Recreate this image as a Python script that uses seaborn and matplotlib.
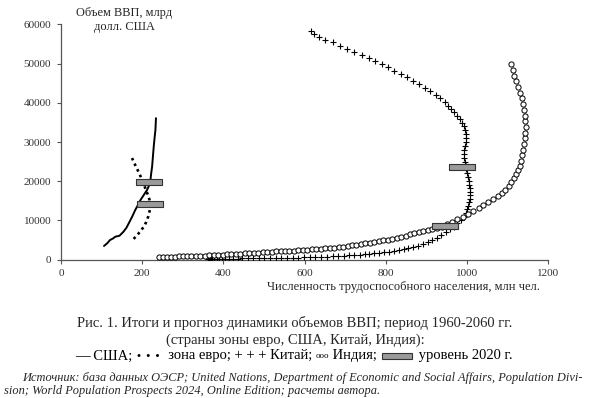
import numpy as np
import pandas as pd
import matplotlib
matplotlib.use("Agg")
import matplotlib.pyplot as plt
from matplotlib.path import Path
from matplotlib.patches import Rectangle
from matplotlib.offsetbox import TextArea, DrawingArea, HPacker, AnchoredOffsetbox
import seaborn as sns

# ---------------- data (population, mln; GDP, bln USD) ----------------
usa_pop = [106, 114, 121, 128, 134, 144, 154, 161, 167, 175, 183, 190, 196, 204, 212,
           217, 220, 222, 224.5, 226.5, 228.5, 230.5, 232.7, 234]
usa_gdp = [3500, 4200, 5030, 5400, 5870, 6100, 7140, 8100, 9280, 10900, 12680, 14000,
           15230, 16500, 17780, 18900, 19900, 21800, 23720, 26300, 28830, 31000, 33090, 36070]

euro_pop = [179, 188, 196, 204, 210, 215, 219, 220, 218, 214, 209, 204, 198, 191, 183, 175]
euro_gdp = [5300, 6300, 7300, 8400, 9600, 11000, 12700, 14000, 15300, 16600, 17800,
            19300, 20800, 22400, 24100, 25900]

china_pop = [362, 364, 366, 369, 373, 378, 384, 390, 397, 405, 414, 424, 435, 447, 460,
             473, 487, 501, 515, 529, 543, 557, 571, 585, 599, 613, 627, 641, 655, 669,
             683, 697, 710, 723, 736, 748, 760, 772, 784, 796, 808, 820, 832, 844, 856,
             868, 880, 892, 904, 915, 926, 937, 948, 958, 968, 977, 985, 992, 997, 1001,
             1004, 1006, 1007, 1008, 1008, 1007, 1006, 1005, 1003, 1001, 999, 997, 995,
             993, 993, 994, 995, 997, 998, 998, 996, 993, 988, 982, 976, 969, 962, 954,
             945, 935, 923, 910, 896, 882, 867, 852, 837, 821, 806, 790, 774, 758, 741,
             723, 705, 687, 669, 651, 636, 624, 616]
china_gdp = [150, 150, 150, 160, 170, 190, 210, 220, 230, 240, 260, 280, 300, 320, 340,
             360, 370, 390, 400, 420, 450, 480, 510, 540, 580, 620, 670, 720, 780, 850,
             920, 990, 1070, 1150, 1240, 1340, 1450, 1580, 1720, 1870, 2040, 2230, 2440,
             2680, 2950, 3260, 3610, 4010, 4470, 5000, 5600, 6250, 6950, 7700, 8450, 9250,
             10100, 11000, 11900, 12800, 13700, 14600, 15500, 16400, 17300, 18200, 19100,
             20000, 21000, 22000, 23000, 24000, 25000, 26000, 27000, 28000, 29000, 30000,
             31000, 32000, 33000, 34000, 34900, 35800, 36700, 37600, 38500, 39300, 40200,
             41100, 42000, 42900, 43800, 44700, 45600, 46500, 47400, 48200, 49000, 49800,
             50600, 51400, 52200, 53000, 53800, 54600, 55400, 56100, 56800, 57500, 58200]

india_pop = [241, 251, 261, 271, 281, 291, 301, 311, 321, 332, 343, 354, 365, 376, 387,
             398, 409, 420, 431, 442, 453, 464, 475, 486, 497, 508, 519, 530, 541, 552,
             563, 574, 585, 596, 607, 618, 629, 640, 651, 662, 673, 684, 695, 706, 717,
             728, 739, 750, 761, 772, 783, 794, 805, 816, 827, 838, 849, 860, 871, 882,
             893, 904, 915, 926, 938, 951, 964, 977, 990, 1003, 1016, 1029, 1041, 1053,
             1065, 1076, 1086, 1095, 1103, 1110, 1116, 1121, 1126, 1130, 1133, 1136, 1139,
             1141, 1143, 1144, 1145, 1144, 1143, 1141, 1138, 1135, 1131, 1127, 1122, 1117,
             1113, 1110]
india_gdp = [690, 710, 730, 760, 790, 820, 850, 880, 910, 950, 1000, 1050, 1100, 1150,
             1220, 1290, 1350, 1410, 1470, 1540, 1610, 1680, 1750, 1820, 1890, 1960, 2030,
             2100, 2160, 2220, 2270, 2330, 2400, 2480, 2560, 2640, 2720, 2810, 2900, 3000,
             3100, 3220, 3350, 3480, 3650, 3830, 4020, 4210, 4380, 4550, 4730, 4920, 5140,
             5380, 5620, 5880, 6150, 6430, 6720, 7000, 7280, 7560, 7850, 8120, 8420, 9000,
             9600, 10300, 11000, 11750, 12450, 13150, 13850, 14600, 15350, 16150, 17000,
             17850, 18800, 19800, 20800, 21800, 22800, 23800, 25150, 26600, 28050, 29500,
             30950, 32400, 33850, 35300, 36750, 38200, 39650, 41100, 42550, 44000, 45450,
             46900, 48350, 49800]

level2020_pop = [216, 219.5, 987, 947]
level2020_gdp = [19740, 14160, 23520, 8550]

x_ticks = [0, 200, 400, 600, 800, 1000, 1200]
y_ticks = [0, 10000, 20000, 30000, 40000, 50000, 60000]

# ---------------- style ----------------
sns.set_style("ticks")
SERIF = ["Liberation Serif", "DejaVu Serif"]
plt.rcParams["font.family"] = SERIF
plt.rcParams["axes.edgecolor"] = "#555555"
plt.rcParams["xtick.color"] = "#555555"
plt.rcParams["ytick.color"] = "#555555"

fig = plt.figure(figsize=(5.9, 3.98), dpi=100)
ax = fig.add_axes([61 / 590, 0.3475, 487 / 590, 0.5914])

usa = pd.DataFrame({"pop": usa_pop, "gdp": usa_gdp})
euro = pd.DataFrame({"pop": euro_pop, "gdp": euro_gdp})
china = pd.DataFrame({"pop": china_pop, "gdp": china_gdp})
india = pd.DataFrame({"pop": india_pop, "gdp": india_gdp})
lvl = pd.DataFrame({"pop": level2020_pop, "gdp": level2020_gdp})

sns.lineplot(data=usa, x="pop", y="gdp", sort=False, estimator=None, color="black",
             lw=1.4, ax=ax)
sns.lineplot(data=euro, x="pop", y="gdp", sort=False, estimator=None, color="black",
             lw=1.9, ax=ax, linestyle=(0, (1.0, 1.35)))
sns.scatterplot(data=china, x="pop", y="gdp", marker="+", s=22, color="black",
                linewidth=0.8, ax=ax, zorder=3)
sns.scatterplot(data=india, x="pop", y="gdp", marker="o", s=14, facecolor="white",
                edgecolor="black", linewidth=0.7, ax=ax, zorder=3)
rect_marker = Path([(-1, -0.19), (1, -0.19), (1, 0.19), (-1, 0.19), (-1, -0.19)],
                   [Path.MOVETO, Path.LINETO, Path.LINETO, Path.LINETO, Path.CLOSEPOLY])
sns.scatterplot(data=lvl, x="pop", y="gdp", marker=rect_marker, s=370,
                facecolor="#9a9a9a", edgecolor="#333333", linewidth=0.8, ax=ax, zorder=4)

ax.set_xlim(0, 1200)
ax.set_ylim(0, 60000)
ax.set_xticks(x_ticks)
ax.set_yticks(y_ticks)
ax.set_xticklabels([str(v) for v in x_ticks], fontsize=8, color="#333333")
ax.set_yticklabels([str(v) for v in y_ticks], fontsize=8, color="#333333")
ax.tick_params(length=3, width=0.8, pad=4)
ax.set_xlabel("")
ax.set_ylabel("")
sns.despine(ax=ax)
ax.spines["left"].set_linewidth(0.9)
ax.spines["bottom"].set_linewidth(0.9)

# ---------------- texts ----------------
fig.text(124.5 / 590, 1 - 20 / 398, "Объем ВВП, млрд\nдолл. США", ha="center", va="center",
         fontsize=8.9, linespacing=1.2)
fig.text(540 / 590, 1 - 287 / 398, "Численность трудоспособного населения, млн чел.",
         ha="right", va="center", fontsize=9)
fig.text(0.5, 1 - 323 / 398, "Рис. 1. Итоги и прогноз динамики объемов ВВП; период 1960-2060 гг.",
         ha="center", va="center", fontsize=10.5)
fig.text(0.5, 1 - 340 / 398, "(страны зоны евро, США, Китай, Индия):",
         ha="center", va="center", fontsize=10.5)

tp = dict(fontsize=10.5, family=SERIF, color="black")
da = DrawingArea(25, 7, 0, 0)
da.add_artist(Rectangle((1, 1), 22, 5, facecolor="#9a9a9a", edgecolor="#333333", lw=0.8))
parts = [
    TextArea("— США; ", textprops=tp),
    TextArea("• • •", textprops=dict(fontsize=7.5, family=["DejaVu Sans"], color="black")),
    TextArea("  зона евро; + + + Китай; ", textprops=tp),
    TextArea("ooo", textprops=dict(fontsize=6.5, family=SERIF, color="black")),
    TextArea(" Индия; ", textprops=tp),
    da,
    TextArea(" уровень 2020 г.", textprops=tp),
]
hp = HPacker(children=parts, align="center", pad=0, sep=0)
ab = AnchoredOffsetbox(loc="center", child=hp, bbox_to_anchor=(294 / 590, 1 - 356 / 398),
                       bbox_transform=fig.transFigure, frameon=False, pad=0, borderpad=0)
fig.add_artist(ab)

fig.text(22 / 590, 1 - 378 / 398,
         "Источник: база данных ОЭСР; United Nations, Department of Economic and Social Affairs, Population Divi-",
         ha="left", va="center", fontsize=8.9, style="italic")
fig.text(4 / 590, 1 - 391 / 398,
         "sion; World Population Prospects 2024, Online Edition; расчеты автора.",
         ha="left", va="center", fontsize=8.9, style="italic")

fig.savefig("out.png", dpi=100)
